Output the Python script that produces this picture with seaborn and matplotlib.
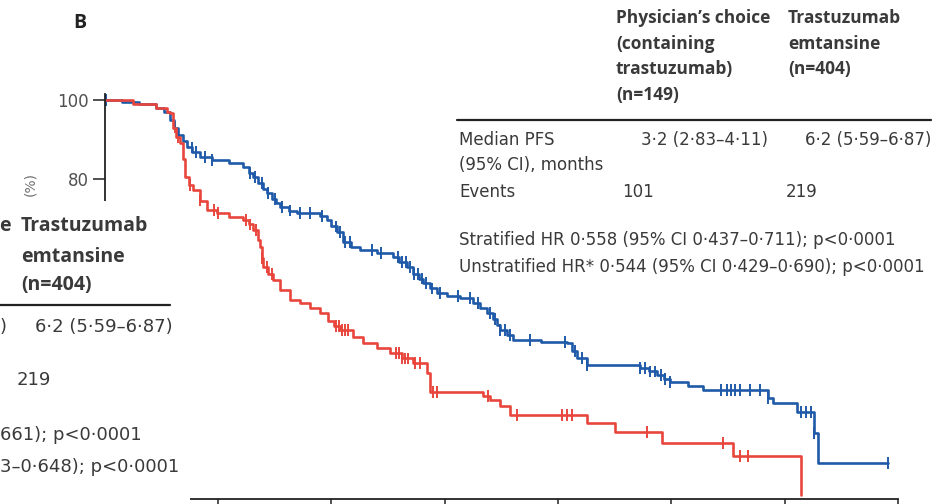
import matplotlib
matplotlib.use('Agg')
import matplotlib.pyplot as plt
import numpy as np
import pandas as pd
import seaborn as sns

# Kaplan-Meier steps: time (months), survival (%) after each drop
blue_time = [0, 0.3, 0.6, 0.9, 1.05, 1.15, 1.22, 1.3, 1.38, 1.46, 1.55, 1.69, 1.9, 2.2, 2.45,
             2.55, 2.62, 2.7, 2.8, 2.87, 2.95, 3.02, 3.1, 3.25, 3.4, 3.8, 3.93, 4.0, 4.1, 4.21,
             4.35, 4.51, 4.8, 5.09, 5.2, 5.34, 5.45, 5.55, 5.62, 5.75, 5.87, 6.05, 6.28, 6.5,
             6.62, 6.75, 6.85, 6.92, 6.98, 7.1, 7.21, 7.7, 8.16, 8.25, 8.34, 8.52, 9.45, 9.6,
             9.75, 9.87, 9.98, 10.3, 10.56, 11.71, 11.8, 12.22, 12.51, 12.58, 13.83]
blue_surv = [100, 99.5, 99, 98, 97, 95, 93, 91, 89.5, 88, 86.8, 85.6, 84.8, 84, 83,
             81.5, 80.5, 79, 77.5, 76.5, 75, 74, 72.9, 72, 71.4, 70.6, 69.5, 68, 66.5, 64,
             62.8, 62, 61.2, 60.3, 59, 57.7, 56, 54.8, 53.7, 52.3, 51.1, 50.4, 49.9, 48.6,
             47.4, 46.1, 44.5, 43, 41.8, 40.5, 39.2, 38.8, 38.5, 36.5, 34.7, 32.9, 32.2, 31.3,
             30.4, 29.4, 28.6, 27.5, 26.6, 24.6, 23.3, 21.0, 15.7, 8.1, 8.1]
blue_censor = [0.03, 1.54, 1.62, 1.77, 1.9, 2.57, 2.66, 2.78, 2.89, 3.01, 3.13, 3.27, 3.45,
               3.63, 3.84, 4.09, 4.16, 4.25, 4.33, 4.72, 4.88, 5.18, 5.25, 5.32, 5.39, 5.46,
               5.53, 5.6, 5.68, 5.78, 5.92, 6.24, 6.45, 6.59, 6.8, 6.89, 6.98, 7.07, 7.16,
               7.51, 8.13, 8.3, 8.43, 8.52, 9.45, 9.54, 9.63, 9.72, 9.81, 9.89, 9.98, 10.87,
               10.99, 11.05, 11.13, 11.22, 11.39, 11.57, 11.71, 12.28, 12.37, 12.46, 12.51, 13.83]

red_time = [0, 0.5, 0.9, 1.1, 1.16, 1.21, 1.27, 1.33, 1.38, 1.42, 1.49, 1.56, 1.68, 1.81,
            1.99, 2.2, 2.44, 2.55, 2.62, 2.7, 2.75, 2.78, 2.8, 2.88, 2.97, 3.1, 3.27, 3.45,
            3.62, 3.8, 3.95, 4.05, 4.16, 4.39, 4.56, 4.8, 5.04, 5.25, 5.45, 5.69, 5.75, 6.68,
            6.8, 6.98, 7.16, 8.52, 9.01, 9.84, 11.09, 12.29]
red_surv = [100, 99, 98, 97, 96.7, 93, 90.6, 89.1, 85, 80.5, 78.5, 77.2, 74.5, 72.2,
            71.4, 70.4, 69.6, 68.5, 67.1, 64.5, 62.8, 60, 57.7, 56, 54.4, 52, 49.4, 48.6,
            47.3, 46.1, 44, 42.8, 41.8, 40, 38.5, 37.2, 35.9, 34.6, 33.4, 30.9, 26.1, 25.1,
            24.1, 22.5, 20.3, 18.2, 15.9, 13.2, 9.9, 0]
red_censor = [1.24, 1.3, 1.51, 1.69, 1.93, 2.0, 2.5, 2.57, 2.67, 2.78, 2.87, 2.96, 4.09, 4.14,
              4.19, 4.25, 4.3, 5.15, 5.2, 5.25, 5.3, 5.36, 5.48, 5.57, 5.8, 5.87, 6.77, 7.28,
              8.08, 8.16, 8.25, 9.58, 10.92, 11.22, 11.36]

x_ticks = [0, 2, 4, 6, 8, 10, 12, 14]
y_ticks = [0, 20, 40, 60, 80, 100]
# only the two top labels are visible, the rest sit under panel A's table
y_labels = ['', '', '', '', '80', '100']

BLUE = '#1f5aa8'
RED = '#e8463d'
TXT = '#3a3a3a'
W, H = 951, 504


def surv_at(times, survs, t):
    i = np.searchsorted(times, t, side='right') - 1
    return survs[max(i, 0)]


steps = pd.concat([
    pd.DataFrame({'time': blue_time, 'surv': blue_surv, 'arm': 'T-DM1'}),
    pd.DataFrame({'time': red_time, 'surv': red_surv, 'arm': 'PC'}),
], ignore_index=True)
cens = pd.concat([
    pd.DataFrame({'time': blue_censor,
                  'surv': [surv_at(blue_time, blue_surv, t) for t in blue_censor], 'arm': 'T-DM1'}),
    pd.DataFrame({'time': red_censor,
                  'surv': [surv_at(red_time, red_surv, t) for t in red_censor], 'arm': 'PC'}),
], ignore_index=True)

sns.set_theme(style='white')
plt.rcParams['font.family'] = ['DejaVu Sans']

fig = plt.figure(figsize=(W / 100, H / 100), dpi=100)


def px(x, y):
    return x / W, 1 - y / H


# main KM axes: 0 months at x=104.5 px, 14 at 898 px; 100% at y=100 px, 0% at y=495 px
ax = fig.add_axes([104.5 / W, 5 / H, 793.5 / W, 405 / H])
pal = {'T-DM1': BLUE, 'PC': RED}
sns.lineplot(data=steps, x='time', y='surv', hue='arm', palette=pal, drawstyle='steps-post',
             estimator=None, sort=False, linewidth=1.9, legend=False, ax=ax)
sns.scatterplot(data=cens, x='time', y='surv', hue='arm', palette=pal, marker='|', s=70,
                linewidth=1.4, legend=False, ax=ax)
ax.set_xlim(0, 14)
ax.set_ylim(-1, 101.5)
ax.set_xticks(x_ticks)
ax.set_xticklabels([])
ax.set_yticks(y_ticks)
ax.set_yticklabels(y_labels, fontsize=12, color='#505050')
ax.tick_params(axis='both', direction='out', length=9, width=1.1, color='#222222', left=True,
               bottom=True, pad=2)
sns.despine(ax=ax)
for s in ['left', 'bottom']:
    ax.spines[s].set_color('#222222')
    ax.spines[s].set_linewidth(1.3)
ax.set_xlabel('')
ax.set_ylabel('')
fig.text(*px(30, 184), '(%)', rotation=90, ha='center', va='center', fontsize=10,
         color='#707070')

fig.text(*px(80, 23), 'B', fontsize=14, fontweight='bold', color='#222222', ha='center',
         va='center', family='Open Sans')

# table of panel B
hdr = dict(fontsize=12.5, fontweight='bold', color=TXT, va='center', ha='left',
           family='Open Sans')
for i, line in enumerate(['Physician\u2019s choice', '(containing', 'trastuzumab)', '(n=149)']):
    fig.text(*px(616, 18 + 25.7 * i), line, **hdr)
for i, line in enumerate(['Trastuzumab', 'emtansine', '(n=404)']):
    fig.text(*px(788, 18 + 25.7 * i), line, **hdr)
fig.add_artist(plt.Line2D([457 / W, 931 / W], [1 - 120 / H] * 2, color='#222222', lw=1.6))
body = dict(fontsize=12, color=TXT, va='center')
fig.text(*px(459, 140), 'Median PFS', ha='left', **body)
fig.text(*px(459, 165), '(95% CI), months', ha='left', **body)
fig.text(*px(768, 140), '3\u00b72 (2\u00b783\u20134\u00b711)', ha='right', **body)
fig.text(*px(931, 140), '6\u00b72 (5\u00b759\u20136\u00b787)', ha='right', **body)
fig.text(*px(459, 192), 'Events', ha='left', **body)
fig.text(*px(622, 192), '101', ha='left', **body)
fig.text(*px(786, 192), '219', ha='left', **body)
fig.text(*px(459, 240), 'Stratified HR 0\u00b7558 (95% CI 0\u00b7437\u20130\u00b7711); p<0\u00b70001',
         ha='left', **body)
fig.text(*px(459, 267), 'Unstratified HR* 0\u00b7544 (95% CI 0\u00b7429\u20130\u00b7690); p<0\u00b70001',
         ha='left', **body)

# fragment of panel A's table laid over the lower left corner
ov = fig.add_axes([0, 0, 190 / W, (H - 201) / H])
ov.set_zorder(5)
ov.set_facecolor('white')
ov.set_xlim(0, 190)
ov.set_ylim(H, 201)
ov.set_xticks([])
ov.set_yticks([])
for s in ov.spines.values():
    s.set_visible(False)
a_hdr = dict(fontsize=14, fontweight='bold', color=TXT, va='center', family='Open Sans')
a_body = dict(fontsize=13, color=TXT, va='center')
ov.text(-1, 226, 'e', **a_hdr)
ov.text(21, 226, 'Trastuzumab', **a_hdr)
ov.text(21, 257, 'emtansine', **a_hdr)
ov.text(21, 285, '(n=404)', **a_hdr)
ov.plot([0, 170], [305, 305], color='#222222', lw=1.6)
ov.text(0, 327, ')', **a_body)
ov.text(35, 327, '6\u00b72 (5\u00b759\u20136\u00b787)', **a_body)
ov.text(17, 380, '219', **a_body)
ov.text(0, 435, '661); p<0\u00b70001', **a_body)
ov.text(0, 467, '3\u20130\u00b7648); p<0\u00b70001', **a_body)

fig.savefig('out.png', dpi=100)
